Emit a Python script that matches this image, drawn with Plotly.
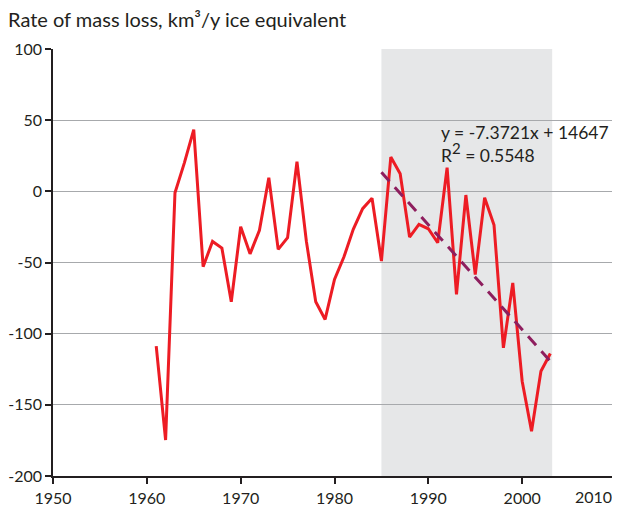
import plotly.graph_objects as go

# annual rate of mass loss, km3/y ice equivalent
years = list(range(1961, 2004))
mass_loss = [-108.8, -174.7, -1.0, 20.0, 43.3, -53.0, -35.2, -39.9, -77.6, -24.9,
             -43.9, -27.4, 9.6, -40.8, -32.6, 20.8, -35.0, -77.6, -90.0, -61.9,
             -46.2, -26.7, -12.2, -4.9, -49.0, 24.1, 12.4, -32.1, -23.2, -26.3,
             -36.1, 16.6, -72.4, -2.6, -58.4, -4.5, -23.7, -110.0, -64.3, -133.4,
             -168.6, -126.4, -113.9]

# linear trend fitted over the shaded period
trend_years = [1985, 2003]
slope = -7.3721
intercept = 14647
trend_values = [slope * yr + intercept for yr in trend_years]

shade_start = 1985
shade_end = 2003.2

y_ticks = [-200, -150, -100, -50, 0, 50, 100]
y_ticklabels = ['-200', '-150', '-100', '-50', '0', '50', '100']
x_ticks = [1950, 1960, 1970, 1980, 1990, 2000, 2010]
x_ticklabels = ['1950', '1960', '1970', '1980', '1990', '2000', '']

fig = go.Figure()

fig.add_trace(go.Scatter(x=years, y=mass_loss, mode='lines',
                         line=dict(color='#ED1C24', width=3),
                         showlegend=False, hoverinfo='skip'))

fig.add_trace(go.Scatter(x=trend_years, y=trend_values, mode='lines',
                         line=dict(color='#8E1E5E', width=3, dash='12px,8px'),
                         showlegend=False, hoverinfo='skip'))

# grey shading behind the recent period
fig.add_shape(type='rect', xref='x', yref='y',
              x0=shade_start, x1=shade_end, y0=-200, y1=100,
              fillcolor='#E6E7E8', line_width=0, layer='below')

fig.add_annotation(x=1991.1, y=50, xref='x', yref='y',
                   xanchor='left', yanchor='top', align='left', showarrow=False,
                   text='y = -7.3721x + 14647<br>'
                        'R<sup><span style="font-size:15px">2</span></sup> = 0.5548',
                   font=dict(size=17.5, color='#231F20'))

# last year label sits against the right edge, so it is pulled inwards
fig.add_annotation(x=2010, y=-200, xref='x', yref='y',
                   xanchor='right', yanchor='top', showarrow=False,
                   xshift=-2, yshift=-9, text=str(x_ticks[-1]),
                   font=dict(size=16, color='#231F20'))

# the page body adds an 8px offset, so the figure is sized 8px smaller
fig.update_layout(
    width=612, height=500,
    margin=dict(l=45, r=4, t=41, b=32, autoexpand=False),
    plot_bgcolor='white', paper_bgcolor='white',
    font=dict(family='Lato, Open Sans, sans-serif', size=16, color='#231F20'),
    title=dict(text='Rate of mass loss, km³/y ice equivalent',
               x=0, xanchor='left', y=0.976, yanchor='middle',
               pad=dict(l=0, t=0, b=0, r=0),
               font=dict(size=20)),
)

fig.update_xaxes(range=[1950, 2010], tickvals=x_ticks, ticktext=x_ticklabels,
                 showgrid=False, zeroline=False, automargin=False,
                 ticklabelstandoff=1,
                 showline=True, linecolor='#231F20', linewidth=1.5,
                 ticks='outside', ticklen=6, tickcolor='#231F20', tickwidth=1.5)

fig.update_yaxes(range=[-200, 100], tickvals=y_ticks, ticktext=y_ticklabels,
                 showgrid=True, gridcolor='#A7A9AC', gridwidth=1.3,
                 zeroline=False, automargin=False,
                 showline=True, linecolor='#231F20', linewidth=1.5,
                 ticks='outside', ticklen=6, tickcolor='#231F20', tickwidth=1.5)

fig.write_html("out.html")
